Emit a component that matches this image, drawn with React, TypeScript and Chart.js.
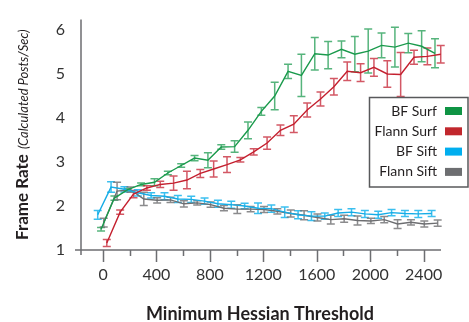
import React, { useEffect, useRef } from "react";
import { Chart, registerables } from "chart.js";

Chart.register(...registerables);

const thresholds = [0, 100, 200, 300, 400, 500, 600, 700, 800, 900, 1000, 1100, 1200, 1300, 1400, 1500, 1600, 1700, 1800, 1900, 2000, 2100, 2200, 2300, 2400, 2500];

const bfSurf = [1.47, 2.18, 2.37, 2.49, 2.54, 2.75, 2.92, 3.09, 3.04, 3.34, 3.35, 3.72, 4.15, 4.5, 5.06, 4.97, 5.46, 5.43, 5.56, 5.45, 5.52, 5.65, 5.61, 5.7, 5.63, 5.47];
const bfSurfErr = [0.04, 0.05, 0.03, 0.03, 0.08, 0.04, 0.04, 0.06, 0.17, 0.05, 0.13, 0.19, 0.09, 0.31, 0.16, 0.48, 0.37, 0.31, 0.19, 0.4, 0.5, 0.28, 0.45, 0.22, 0.35, 0.33];

const flannSurf = [1.16, 1.86, 2.27, 2.41, 2.49, 2.52, 2.59, 2.74, 2.84, 2.94, 3.05, 3.23, 3.43, 3.72, 3.86, 4.18, 4.43, 4.71, 5.06, 5.03, 5.15, 5.0, 4.99, 5.38, 5.4, 5.45];
const flannSurfErr = [0.08, 0.05, 0.08, 0.05, 0.07, 0.16, 0.2, 0.09, 0.18, 0.18, 0.05, 0.07, 0.14, 0.12, 0.19, 0.16, 0.16, 0.19, 0.21, 0.2, 0.2, 0.3, 0.5, 0.16, 0.19, 0.2];

const bfSift = [1.8, 2.43, 2.38, 2.3, 2.24, 2.22, 2.16, 2.15, 2.11, 2.05, 2.03, 2.0, 1.95, 1.94, 1.86, 1.8, 1.77, 1.77, 1.84, 1.86, 1.82, 1.8, 1.85, 1.83, 1.82, 1.83];
const bfSiftErr = [0.1, 0.12, 0.06, 0.07, 0.06, 0.08, 0.08, 0.07, 0.07, 0.08, 0.08, 0.06, 0.12, 0.08, 0.12, 0.09, 0.1, 0.07, 0.08, 0.08, 0.08, 0.08, 0.07, 0.07, 0.08, 0.07];

const flannSift = [1.62, 2.34, 2.37, 2.16, 2.13, 2.14, 2.05, 2.07, 2.03, 1.95, 1.93, 1.93, 1.92, 1.88, 1.83, 1.79, 1.74, 1.69, 1.71, 1.67, 1.66, 1.69, 1.59, 1.63, 1.59, 1.61];
const flannSiftErr = [0.1, 0.2, 0.06, 0.15, 0.06, 0.06, 0.07, 0.05, 0.06, 0.06, 0.1, 0.06, 0.07, 0.06, 0.08, 0.1, 0.08, 0.1, 0.08, 0.1, 0.06, 0.07, 0.1, 0.06, 0.07, 0.07];

const seriesLabels = ["BF Surf", "Flann Surf", "BF Sift", "Flann Sift"];
const xTickValues = [0, 400, 800, 1200, 1600, 2000, 2400];
const xMinorTickValues = [200, 600, 1000, 1400, 1800, 2200];
const yTickValues = [1, 2, 3, 4, 5, 6];

const xTitle = "Minimum Hessian Threshold";
const yTitleMain = "Frame Rate";
const yTitleSub = "(Calculated Posts/Sec)";

export default function App() {
  const ref = useRef<HTMLCanvasElement>(null);

  useEffect(() => {
    const series = [
      { label: seriesLabels[0], values: bfSurf, errors: bfSurfErr, color: "#1a9a4c", errColor: "rgba(30,155,80,0.75)", swatch: "#0f9444", dodge: -15 },
      { label: seriesLabels[1], values: flannSurf, errors: flannSurfErr, color: "#c4202f", errColor: "rgba(196,32,50,0.75)", swatch: "#c1272d", dodge: 28 },
      { label: seriesLabels[2], values: bfSift, errors: bfSiftErr, color: "#16ace6", errColor: "rgba(10,175,235,0.8)", swatch: "#00aeef", dodge: -40 },
      { label: seriesLabels[3], values: flannSift, errors: flannSiftErr, color: "#6d6e71", errColor: "rgba(110,110,113,0.8)", swatch: "#6d6e71", dodge: 5 },
    ];

    const datasets = series.map((s) => ({
      label: s.label,
      data: thresholds.map((t, i) => ({ x: t + s.dodge, y: s.values[i] })),
      borderColor: s.color,
      backgroundColor: s.swatch,
      borderWidth: 1.4,
      pointRadius: 0,
      tension: 0,
      fill: false,
    }));

    const deco = {
      id: "deco",
      beforeDatasetsDraw(chart: any) {
        const ctx = chart.ctx;
        const xs = chart.scales.x;
        const ys = chart.scales.y;
        ctx.save();
        series.forEach((s) => {
          ctx.strokeStyle = s.errColor;
          ctx.lineWidth = 1.5;
          thresholds.forEach((t, i) => {
            const px = xs.getPixelForValue(t + s.dodge);
            const top = ys.getPixelForValue(s.values[i] + s.errors[i]);
            const bot = ys.getPixelForValue(s.values[i] - s.errors[i]);
            ctx.beginPath();
            ctx.moveTo(px, top);
            ctx.lineTo(px, bot);
            ctx.moveTo(px - 4, top);
            ctx.lineTo(px + 4, top);
            ctx.moveTo(px - 4, bot);
            ctx.lineTo(px + 4, bot);
            ctx.stroke();
          });
        });
        ctx.restore();
      },
      afterDraw(chart: any) {
        const ctx = chart.ctx;
        const xs = chart.scales.x;
        const area = chart.chartArea;
        ctx.save();
        // axes
        ctx.strokeStyle = "#6d6e71";
        ctx.lineWidth = 1.5;
        ctx.beginPath();
        ctx.moveTo(area.left, area.bottom);
        ctx.lineTo(area.right, area.bottom);
        const yAxisX = area.left + 6;
        ctx.moveTo(yAxisX, area.top);
        ctx.lineTo(yAxisX, area.bottom + 5);
        xTickValues.forEach((v) => {
          const px = Math.round(xs.getPixelForValue(v)) + 0.5;
          ctx.moveTo(px, area.bottom);
          ctx.lineTo(px, area.bottom + 12);
        });
        xMinorTickValues.forEach((v) => {
          const px = Math.round(xs.getPixelForValue(v)) + 0.5;
          ctx.moveTo(px, area.bottom);
          ctx.lineTo(px, area.bottom + 6);
        });
        ctx.stroke();

        // x title
        ctx.fillStyle = "#231f20";
        ctx.font = "bold 18px Lato";
        ctx.textAlign = "center";
        ctx.textBaseline = "alphabetic";
        ctx.fillText(xTitle, 260, 320);

        // y title
        ctx.save();
        ctx.translate(28, 240);
        ctx.rotate(-Math.PI / 2);
        ctx.textAlign = "left";
        ctx.font = "bold 17px Lato";
        ctx.fillText(yTitleMain, 0, 0);
        const w = ctx.measureText(yTitleMain).width;
        ctx.font = "italic 13px Lato";
        ctx.fillText(yTitleSub, w + 5, 0);
        ctx.restore();

        // legend
        const lx0 = 369.5, ly0 = 97.5, lx1 = 468, ly1 = 187;
        ctx.strokeStyle = "#58595b";
        ctx.lineWidth = 1.5;
        ctx.strokeRect(lx0, ly0, lx1 - lx0, ly1 - ly0);
        ctx.font = "14px Lato";
        ctx.textAlign = "right";
        ctx.textBaseline = "middle";
        chart.data.datasets.forEach((d: any, i: number) => {
          const cy = 111 + i * 20.3;
          ctx.fillStyle = "#231f20";
          ctx.fillText(d.label, 437, cy);
          ctx.fillStyle = d.backgroundColor;
          ctx.fillRect(445, cy - 4, 17, 8);
        });
        ctx.restore();
      },
    };

    const chart = new Chart(ref.current as HTMLCanvasElement, {
      type: "line",
      data: { datasets: datasets as any },
      options: {
        animation: false,
        responsive: false,
        layout: { padding: { left: 0, right: 28, top: 6, bottom: 0 } },
        plugins: { legend: { display: false }, tooltip: { enabled: false } },
        scales: {
          x: {
            type: "linear",
            min: -210,
            max: 2530,
            grid: { display: false, drawTicks: false },
            border: { display: false },
            afterBuildTicks: (s: any) => {
              s.ticks = xTickValues.map((v) => ({ value: v }));
            },
            afterFit: (s: any) => {
              s.height = 72;
            },
            ticks: {
              font: { family: "Lato", size: 16 },
              color: "#333333",
              padding: 15,
              maxRotation: 0,
              autoSkip: false,
              callback: (v: any) => String(v),
            },
          },
          y: {
            type: "linear",
            min: 1,
            max: 6.236,
            grid: { display: false, drawTicks: false },
            border: { display: false },
            afterBuildTicks: (s: any) => {
              s.ticks = yTickValues.map((v) => ({ value: v }));
            },
            afterFit: (s: any) => {
              s.width = 75;
            },
            ticks: {
              font: { family: "Lato", size: 16 },
              color: "#333333",
              padding: 10,
              callback: (v: any) => String(v),
            },
          },
        },
      },
      plugins: [deco],
    });
    return () => chart.destroy();
  }, []);

  return (
    <div style={{ position: "fixed", left: 0, top: 0, width: 469, height: 322, background: "#fff" }}>
      <canvas ref={ref} width={469} height={322} style={{ display: "block" }} />
    </div>
  );
}
